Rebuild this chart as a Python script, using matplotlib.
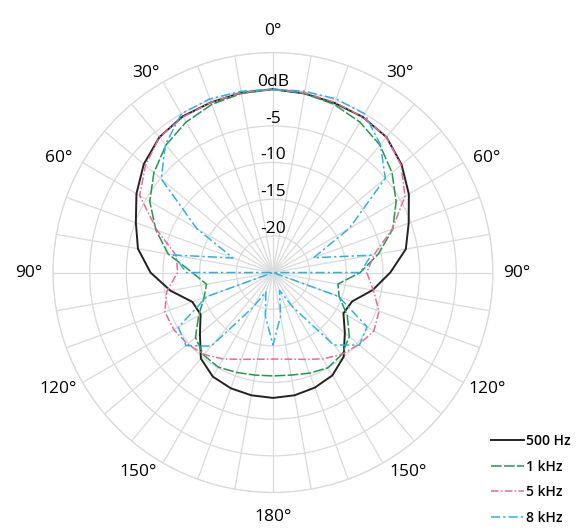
import numpy as np
import matplotlib.pyplot as plt

plt.rcParams['font.family'] = ['Open Sans', 'DejaVu Sans']

# angle in degrees, clockwise from the front (0° at top)
angles = np.arange(0, 360, 10)

# relative level in dB, one value every 10°
spl_500hz = [0, -0.2, -0.4, -0.5, -0.9, -2.1, -3.6, -5.3, -6.6, -9.0,
             -11.2, -13.5, -13.9, -12.2, -10.0, -8.8, -8.3, -8.0, -7.9,
             -8.0, -8.2, -8.6, -9.7, -12.0, -13.6, -13.3, -10.8, -8.3,
             -6.3, -5.1, -3.5, -2.0, -0.9, -0.4, -0.3, -0.1]
spl_1khz = [0, -0.2, -0.6, -1.3, -2.3, -3.8, -5.6, -7.6, -10.4, -13.1,
            -16.0, -15.4, -13.3, -11.4, -10.4, -10.0, -10.4, -10.8, -10.9,
            -10.8, -10.5, -10.1, -10.3, -11.2, -13.3, -15.0, -15.8, -14.0,
            -10.5, -8.0, -5.6, -3.8, -2.3, -1.3, -0.6, -0.2]
spl_5khz = [0, -0.1, -0.3, -0.5, -0.9, -2.2, -4.2, -7.7, -11.0, -12.2,
            -11.1, -9.6, -9.1, -9.7, -10.4, -11.4, -12.4, -13.0, -13.2,
            -13.0, -12.4, -11.4, -10.4, -9.8, -9.4, -9.3, -10.3, -12.0,
            -11.6, -8.2, -4.0, -2.3, -0.9, -0.5, -0.3, -0.1]
spl_8khz = [0, 0.1, 0.2, 0.0, -2.2, -5.0, -13.0, -19.1, -11.4, -13.1,
            -25, -15.5, -10.2, -9.6, -12.1, -19.5, -22.4, -19.0, -15.1,
            -19.0, -22.2, -19.5, -11.9, -9.5, -10.1, -15.4, -25, -13.2,
            -11.2, -19.2, -13.0, -5.1, -2.2, 0.0, 0.2, 0.1]

series_labels = ['500 Hz', '1 kHz', '5 kHz', '8 kHz']
ring_levels = [0, -5, -10, -15, -20]
ring_labels = ['0dB', '-5', '-10', '-15', '-20']
angle_marks = [0, 30, 60, 90, 120, 150, 180]

colors = ['#222222', '#1f9a4c', '#e56a9c', '#2bb3e6']
styles = ['-', (0, (7, 1.5)), (0, (5, 1.5, 1, 1.5)), (0, (6, 2, 1.5, 2))]
widths = [1.4, 1.1, 1.1, 1.1]

# where each angle label sits: (angle shift in deg, distance from centre in px)
label_place = {0: (0, 242), 30: (2.5, 237), 60: (1.8, 243), 90: (0, 244),
               120: (-1.5, 244), 150: (-4, 241), 180: (0, 245)}
px_per_db = 220 / 30

fig = plt.figure(figsize=(5.85, 5.32), dpi=100)
ax = fig.add_axes([0.0906, 0.0742, 0.752, 0.827], projection='polar')
ax.set_theta_zero_location('N')
ax.set_theta_direction(-1)
ax.set_rlim(-25, 5)

grid_col = '#dadada'
ax.set_xticks(np.deg2rad(np.arange(0, 360, 10)))
ax.set_xticklabels([])
ax.set_yticks([-20, -15, -10, -5, 0, 5])
ax.set_yticklabels([])
ax.grid(True, color=grid_col, linewidth=0.9)
ax.spines['polar'].set_color(grid_col)
ax.spines['polar'].set_linewidth(0.9)
ax.tick_params(length=0)

theta = np.deg2rad(np.append(angles, 360))
for vals, lab, c, ls, lw in zip([spl_500hz, spl_1khz, spl_5khz, spl_8khz],
                                series_labels, colors, styles, widths):
    r = np.append(vals, vals[0])
    ax.plot(theta, r, color=c, linestyle=ls, linewidth=lw, label=lab)

# dB labels along the 0° axis
for lvl, txt in zip(ring_levels, ring_labels):
    ax.text(0, lvl + 0.45, txt, ha='center', va='baseline', fontsize=12.5)

# angle labels round the outside, mirrored on both sides
for a in angle_marks:
    shift, dist = label_place[a]
    rr = -25 + dist / px_per_db
    sides = [a] if a in (0, 180) else [a, -a]
    for s in sides:
        ang = s + shift * np.sign(s)
        ax.text(np.deg2rad(ang), rr, f"{a}°", ha='center', va='center',
                fontsize=12.5, clip_on=False)

fig.legend(loc='lower right', bbox_to_anchor=(0.995, -0.008), frameon=False,
           handlelength=2.4, handletextpad=0.15, labelspacing=0.85,
           borderpad=0.3, prop={'weight': 'semibold', 'size': 10})

fig.savefig('out.png', dpi=100)
